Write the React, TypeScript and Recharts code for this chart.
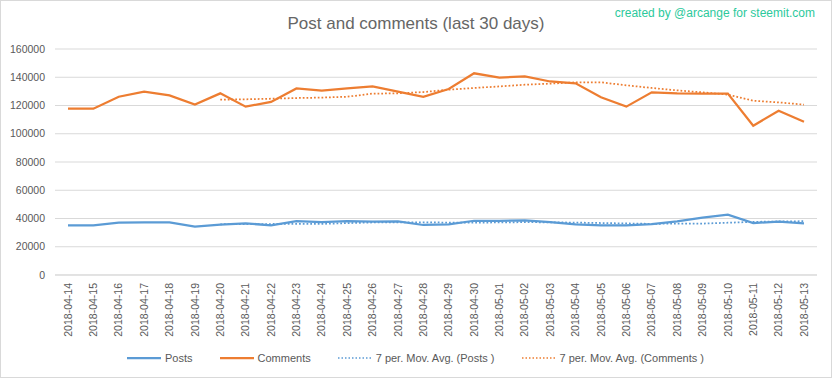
import React from "react";
import { LineChart, Line, XAxis, YAxis, CartesianGrid, Legend } from "recharts";

const dates = [
  "2018-04-14", "2018-04-15", "2018-04-16", "2018-04-17", "2018-04-18", "2018-04-19",
  "2018-04-20", "2018-04-21", "2018-04-22", "2018-04-23", "2018-04-24", "2018-04-25",
  "2018-04-26", "2018-04-27", "2018-04-28", "2018-04-29", "2018-04-30", "2018-05-01",
  "2018-05-02", "2018-05-03", "2018-05-04", "2018-05-05", "2018-05-06", "2018-05-07",
  "2018-05-08", "2018-05-09", "2018-05-10", "2018-05-11", "2018-05-12", "2018-05-13",
];

const posts = [
  35100, 35100, 37000, 37200, 37200, 34200, 35600, 36600, 35100, 38200, 37500, 38200,
  37700, 38000, 35400, 35800, 38400, 38400, 38700, 37400, 35800, 35100, 35100, 36100,
  38000, 40600, 42700, 36800, 37700, 36600,
];

const comments = [
  117700, 117700, 126200, 129800, 127200, 120600, 128600, 119200, 122500, 132100, 130500, 132100,
  133500, 129800, 126200, 131700, 142800, 139700, 140600, 137000, 135700, 125800, 119200, 129300,
  128600, 128400, 128400, 105700, 116300, 108500,
];

const postsAvg: (number | null)[] = [
  null, null, null, null, null, null, 35900, 36100, 36100, 36200, 36200, 36700,
  37200, 37200, 37300, 37100, 37100, 37200, 37400, 37300, 37100, 36800, 36500, 36200,
  36400, 36400, 37000, 37600, 37900, 38100,
];

const commentsAvg: (number | null)[] = [
  null, null, null, null, null, null, 124100, 124400, 124800, 125300, 125600, 126200,
  128400, 128600, 129500, 131200, 132400, 133500, 134700, 135500, 136400, 136400, 134300, 132400,
  130700, 129300, 127700, 123400, 122200, 120600,
];

const yTicks = [0, 20000, 40000, 60000, 80000, 100000, 120000, 140000, 160000];

const title = "Post and comments (last 30 days)";
const credit = "created by @arcange for steemit.com";

const seriesInfo = [
  { key: "posts", name: "Posts", color: "#5b9bd5", dotted: false },
  { key: "comments", name: "Comments", color: "#ed7d31", dotted: false },
  { key: "postsAvg", name: "7 per. Mov. Avg. (Posts )", color: "#5b9bd5", dotted: true },
  { key: "commentsAvg", name: "7 per. Mov. Avg. (Comments )", color: "#ed7d31", dotted: true },
];

const data = dates.map((d, i) => ({
  date: d,
  posts: posts[i],
  comments: comments[i],
  postsAvg: postsAvg[i],
  commentsAvg: commentsAvg[i],
}));

const FONT = "'Liberation Sans', Arial, sans-serif";
const TXT = "#595959";

const XTick = (props: any) => {
  const { x, y, payload } = props;
  return (
    <text
      x={x}
      y={y}
      transform={`rotate(-90, ${x}, ${y})`}
      textAnchor="end"
      dy="0.35em"
      fill={TXT}
      fontSize={10.5}
      fontFamily={FONT}
    >
      {payload.value}
    </text>
  );
};

const LegendContent = () => (
  <div
    style={{
      display: "flex",
      justifyContent: "center",
      alignItems: "center",
      height: 20,
      fontFamily: FONT,
      fontSize: 11,
      color: TXT,
      paddingLeft: 14,
    }}
  >
    {seriesInfo.map((s, i) => (
      <div key={s.key} style={{ display: "flex", alignItems: "center", marginLeft: i === 0 ? 0 : 27 }}>
        <svg width={34} height={6} style={{ marginRight: 4 }}>
          <line
            x1={0}
            y1={3}
            x2={34}
            y2={3}
            stroke={s.color}
            strokeWidth={s.dotted ? 1.5 : 2.25}
            strokeDasharray={s.dotted ? "1.5 2" : undefined}
          />
        </svg>
        <span>{s.name}</span>
      </div>
    ))}
  </div>
);

export default function App() {
  return (
    <div style={{ position: "absolute", left: 0, top: 0, width: 832, height: 378, background: "#fff" }}>
      <LineChart
        width={832}
        height={378}
        data={data}
        margin={{ top: 49, right: 15, bottom: 10, left: 0 }}
      >
        <CartesianGrid horizontal vertical={false} stroke="#d9d9d9" strokeWidth={1} />
        <XAxis
          dataKey="date"
          interval={0}
          height={73}
          padding={{ left: 13, right: 13 }}
          tick={<XTick />}
          tickLine={false}
          axisLine={{ stroke: "#d9d9d9" }}
        />
        <YAxis
          width={55}
          domain={[0, 160000]}
          ticks={yTicks}
          interval={0}
          tickLine={false}
          axisLine={false}
          tickMargin={4}
          tick={{ fill: TXT, fontSize: 10.5, fontFamily: FONT }}
        />
        <Legend verticalAlign="bottom" height={20} content={<LegendContent />} />
        <Line
          dataKey="postsAvg"
          name="7 per. Mov. Avg. (Posts )"
          stroke="#5b9bd5"
          strokeWidth={1.75}
          strokeDasharray="1.75 2"
          dot={false}
          isAnimationActive={false}
          connectNulls={false}
        />
        <Line
          dataKey="commentsAvg"
          name="7 per. Mov. Avg. (Comments )"
          stroke="#ed7d31"
          strokeWidth={1.75}
          strokeDasharray="1.75 2"
          dot={false}
          isAnimationActive={false}
          connectNulls={false}
        />
        <Line
          dataKey="posts"
          name="Posts"
          stroke="#5b9bd5"
          strokeWidth={2.25}
          dot={false}
          isAnimationActive={false}
        />
        <Line
          dataKey="comments"
          name="Comments"
          stroke="#ed7d31"
          strokeWidth={2.25}
          dot={false}
          isAnimationActive={false}
        />
      </LineChart>
      <div
        style={{
          position: "absolute",
          left: 0,
          top: 12,
          width: 832,
          textAlign: "center",
          fontFamily: FONT,
          fontSize: 17,
          color: "#666666",
          lineHeight: "24px",
        }}
      >
        {title}
      </div>
      <div
        style={{
          position: "absolute",
          right: 17,
          top: 5,
          fontFamily: FONT,
          fontSize: 12,
          color: "#2cc99c",
          lineHeight: "16px",
        }}
      >
        {credit}
      </div>
      <div
        style={{
          position: "absolute",
          left: 0,
          top: 0,
          width: 832,
          height: 378,
          boxSizing: "border-box",
          border: "1px solid #d9d9d9",
          pointerEvents: "none",
        }}
      />
    </div>
  );
}
